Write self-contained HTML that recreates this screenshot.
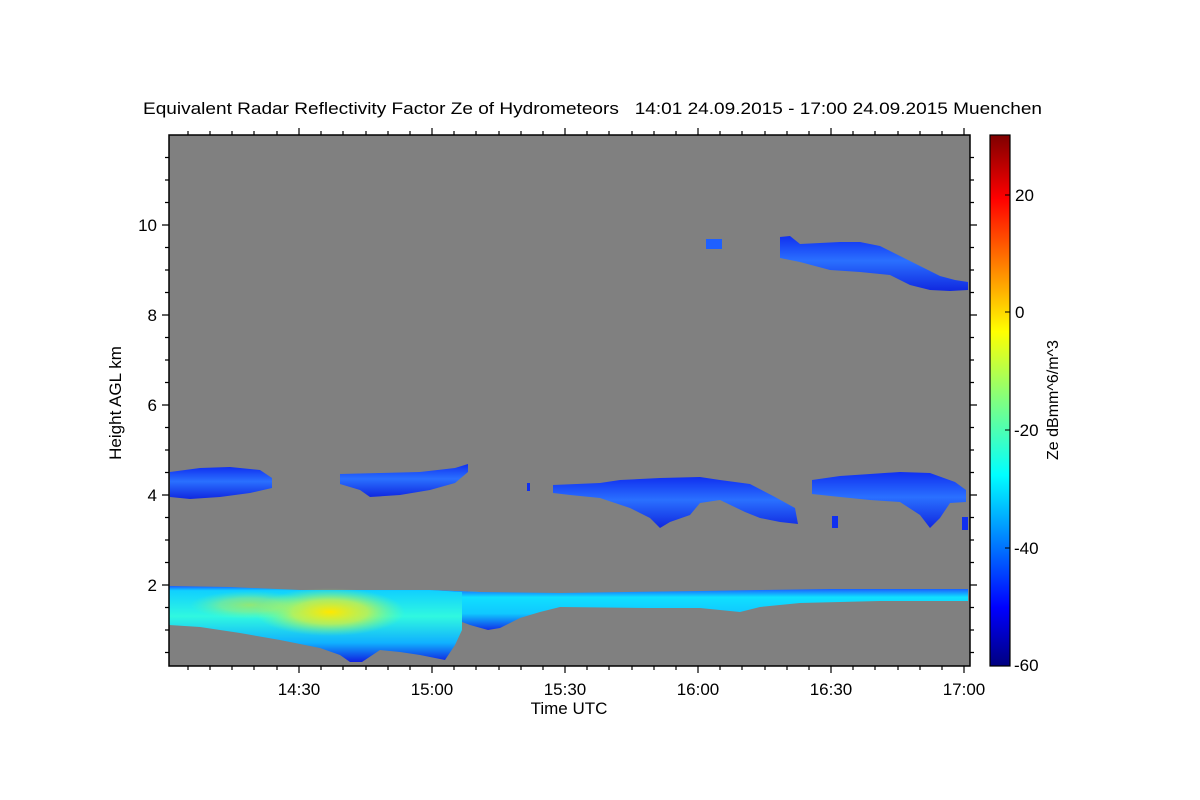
<!DOCTYPE html>
<html><head><meta charset="utf-8"><style>
body{margin:0;background:#fff;}
svg{display:block;font-family:"Liberation Sans",sans-serif;}
</style></head><body>
<svg width="1200" height="800" viewBox="0 0 1200 800" xmlns="http://www.w3.org/2000/svg">
<defs>
<linearGradient id="jet" x1="0" y1="1" x2="0" y2="0">
<stop offset="0" stop-color="#00007f"/>
<stop offset="0.11" stop-color="#0000ff"/>
<stop offset="0.36" stop-color="#00ffff"/>
<stop offset="0.5" stop-color="#80ff80"/>
<stop offset="0.63" stop-color="#ffff00"/>
<stop offset="0.88" stop-color="#ff0000"/>
<stop offset="1" stop-color="#7f0000"/>
</linearGradient>
<linearGradient id="cl" x1="0" y1="0" x2="0" y2="1">
<stop offset="0" stop-color="#1030f0"/>
<stop offset="0.45" stop-color="#2a70ff"/>
<stop offset="1" stop-color="#1028e0"/>
</linearGradient>
<linearGradient id="low" x1="0" y1="0" x2="0" y2="1">
<stop offset="0" stop-color="#1a5cff"/>
<stop offset="0.06" stop-color="#10d0ff"/>
<stop offset="0.4" stop-color="#30f8e0"/>
<stop offset="0.75" stop-color="#10b0ff"/>
<stop offset="1" stop-color="#1020e0"/>
</linearGradient>
<linearGradient id="thin" x1="0" y1="0" x2="0" y2="1">
<stop offset="0" stop-color="#1a60ff"/>
<stop offset="0.2" stop-color="#10e0ff"/>
<stop offset="0.6" stop-color="#10c8ff"/>
<stop offset="1" stop-color="#1030e8"/>
</linearGradient>
<radialGradient id="core" cx="0.5" cy="0.5" r="0.5">
<stop offset="0" stop-color="#ffe800"/>
<stop offset="0.5" stop-color="#d0f040" stop-opacity="0.8"/>
<stop offset="1" stop-color="#80ff80" stop-opacity="0"/>
</radialGradient>
</defs>
<text x="143" y="114" font-size="17" textLength="899" lengthAdjust="spacingAndGlyphs" xml:space="preserve">Equivalent Radar Reflectivity Factor Ze of Hydrometeors   14:01 24.09.2015 - 17:00 24.09.2015 Muenchen</text>
<rect x="169" y="135" width="801" height="531" fill="#808080"/>
<!-- low band -->
<polygon fill="url(#low)" points="169,586 230,587 300,590 430,590 480,592 462,592 462,630 455,645 445,660 420,655 400,652 380,650 362,662 350,662 340,655 320,648 280,640 240,633 200,627 169,625"/>
<polygon fill="url(#thin)" points="430,590 480,592 560,593 700,591 760,590 830,589 968,589 968,601 880,601 800,603 760,607 740,612 700,608 650,608 560,607 540,612 520,618 500,628 488,630 470,625 462,622 462,592"/>
<ellipse cx="330" cy="612" rx="75" ry="24" fill="url(#core)"/>
<ellipse cx="250" cy="605" rx="60" ry="14" fill="url(#core)" opacity="0.5"/>
<!-- 4km clouds -->
<polygon fill="url(#cl)" points="170,472 200,468 230,467 260,470 272,478 272,488 250,493 220,497 190,499 170,497"/>
<polygon fill="url(#cl)" points="340,474 380,473 420,472 455,468 468,464 468,472 455,483 430,490 400,495 370,497 360,490 340,484"/>
<rect x="527" y="483" width="3" height="8" fill="#1030f0"/>
<polygon fill="url(#cl)" points="553,485 600,483 620,480 660,478 700,477 720,480 750,484 775,497 795,508 798,524 780,522 760,518 745,512 720,500 700,503 690,515 670,522 660,528 650,518 630,508 600,498 570,495 553,493"/>
<polygon fill="url(#cl)" points="812,480 840,476 870,474 900,472 930,473 955,482 966,490 966,502 950,503 940,518 930,528 920,515 900,502 870,500 840,497 812,494"/>
<rect x="962" y="517" width="6" height="13" fill="#1030f0"/>
<rect x="832" y="516" width="6" height="12" fill="#1030f0"/>
<!-- high cloud -->
<rect x="706" y="239" width="16" height="10" fill="#1e60ff"/>
<polygon fill="url(#cl)" points="780,237 790,236 800,244 840,242 860,242 880,246 900,256 920,266 940,276 955,280 968,282 968,290 950,291 930,290 910,285 890,275 860,272 830,270 800,262 780,258"/>
<!-- axes frame -->
<rect x="169" y="135" width="801" height="531" fill="none" stroke="#000" stroke-width="1.5"/>
<g stroke="#000" stroke-width="1.2">
<path d="M162,225H169M162,315H169M162,405H169M162,495H169M162,585H169
M165,157.5H169M165,180H169M165,202.5H169M165,247.5H169M165,270H169M165,292.5H169M165,337.5H169M165,360H169M165,382.5H169M165,427.5H169M165,450H169M165,472.5H169M165,517.5H169M165,540H169M165,562.5H169M165,607.5H169M165,630H169M165,652.5H169
M970,225H977M970,315H977M970,405H977M970,495H977M970,585H977
M970,157.5H974M970,180H974M970,202.5H974M970,247.5H974M970,270H974M970,292.5H974M970,337.5H974M970,360H974M970,382.5H974M970,427.5H974M970,450H974M970,472.5H974M970,517.5H974M970,540H974M970,562.5H974M970,607.5H974M970,630H974M970,652.5H974"/>
<path d="M299,666V673M432,666V673M565,666V673M698,666V673M831,666V673M964,666V673
M299,135V128M432,135V128M565,135V128M698,135V128M831,135V128M964,135V128
M188,666V670M210,666V670M232,666V670M254,666V670M277,666V670M321,666V670M343,666V670M366,666V670M388,666V670M410,666V670M454,666V670M476,666V670M499,666V670M521,666V670M543,666V670M587,666V670M609,666V670M632,666V670M654,666V670M676,666V670M720,666V670M742,666V670M765,666V670M787,666V670M809,666V670M853,666V670M875,666V670M898,666V670M920,666V670M942,666V670
M188,135V131M210,135V131M232,135V131M254,135V131M277,135V131M321,135V131M343,135V131M366,135V131M388,135V131M410,135V131M454,135V131M476,135V131M499,135V131M521,135V131M543,135V131M587,135V131M609,135V131M632,135V131M654,135V131M676,135V131M720,135V131M742,135V131M765,135V131M787,135V131M809,135V131M853,135V131M875,135V131M898,135V131M920,135V131M942,135V131"/>
</g>
<g font-size="17" text-anchor="end">
<text x="157" y="231">10</text><text x="157" y="321">8</text><text x="157" y="411">6</text><text x="157" y="501">4</text><text x="157" y="591">2</text>
</g>
<g font-size="17" text-anchor="middle">
<text x="299" y="695">14:30</text><text x="432" y="695">15:00</text><text x="565" y="695">15:30</text><text x="698" y="695">16:00</text><text x="831" y="695">16:30</text><text x="964" y="695">17:00</text>
<text x="569" y="714">Time UTC</text>
</g>
<text transform="translate(121,403) rotate(-90)" font-size="17" text-anchor="middle">Height AGL km</text>
<rect x="990" y="135" width="20" height="531" fill="url(#jet)" stroke="#000" stroke-width="1.2"/>
<g stroke="#000" stroke-width="1"><path d="M1010,195H1005M1010,312H1005M1010,430H1005M1010,548H1005"/></g>
<g font-size="17">
<text x="1015" y="201">20</text><text x="1015" y="318">0</text><text x="1014" y="436">-20</text><text x="1014" y="554">-40</text><text x="1014" y="671">-60</text>
</g>
<text transform="translate(1058,400) rotate(-90)" font-size="16" text-anchor="middle">Ze dBmm^6/m^3</text>
</svg>
</body></html>
